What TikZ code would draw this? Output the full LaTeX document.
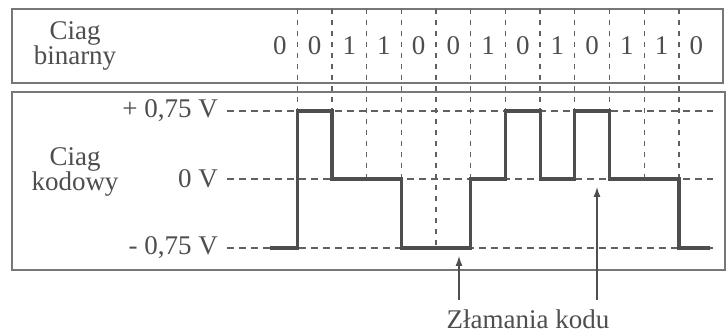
\documentclass[tikz,border=0pt]{standalone}
\usepackage{fontspec}
\setmainfont{Liberation Serif}
\usetikzlibrary{arrows.meta,positioning}
\definecolor{ink}{HTML}{4E4E4E}
\definecolor{frame}{HTML}{777777}
\begin{document}
\begin{tikzpicture}[x=1pt, y=-1pt, font=\fontsize{27}{25}\selectfont, text=ink,
    box/.style = {draw=frame, line width=1.5pt},
    grid/.style = {draw=ink!90, line width=1.3pt, dash pattern=on 5pt off 6pt},
    level/.style = {draw=ink!90, line width=1.3pt, dash pattern=on 7pt off 5pt},
    signal/.style = {draw=ink, line width=3.2pt},
    pointer/.style = {draw=ink, line width=1.2pt, -{Latex[length=10pt,width=7pt]}},
    volt/.style = {anchor=east, inner sep=0pt}]
        \useasboundingbox[fill=white] (0,0) rectangle (727,336);
        \draw[box] (12,9) rectangle (723,83);
        \draw[box] (12,92) rectangle (725,270);

        \node[align=center] (bin) at (75,46) {Ciag\\binarny};
        \node[align=center] (kod) at (75,172) {Ciag\\kodowy};

        \node[volt] (hi) at (218,111) {+ 0,75 V};
        \node[volt] (zero) at (218,179) {0 V};
        \node[volt] (lo) at (218,248) {- 0,75 V};
        \draw[level] ([xshift=9pt]hi.east) -- (713,111);
        \draw[level] ([xshift=9pt]zero.east) -- (713,179);
        \draw[level] ([xshift=9pt]lo.east) -- (713,248);

        % bits
        \foreach \b [count=\i] in {0,0,1,1,0,0,1,0,1,0,1,1,0}
            \node (d\i) at (245.15+34.7*\i,46) {\b};

        % cell borders, down to the signal
        \foreach \k/\y in {1/111,2/111,3/179,4/179,5/248,6/179,7/111,8/111,9/111,10/111,11/179,12/179}
            \draw[grid] (262.5+34.7*\k,9) -- (262.5+34.7*\k,\y);

        \draw[signal] (270,248) -| (297.2,111) -| (331.9,179) -| (401.3,248)
            -| (470.7,179) -| (505.4,111) -| (540.1,179) -| (574.8,111)
            -| (609.5,179) -| (678.9,248) -- (710,248);

        \node[anchor=base, inner ysep=9pt] (brk) at (528,328) {Złamania kodu};
        \coordinate (v1) at (459,256);
        \coordinate (v2) at (597,187);
        \draw[pointer] (v1 |- brk.north) -- (v1);
        \draw[pointer] (v2 |- brk.north) -- (v2);
    \end{tikzpicture}
\end{document}
